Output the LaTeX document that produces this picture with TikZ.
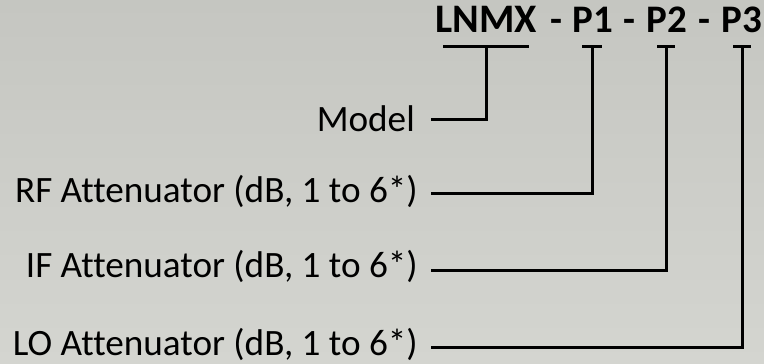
\documentclass[tikz,border=0pt]{standalone}
\usepackage{fontspec}
\setmainfont{Carlito}[Ligatures={NoCommon}]
\definecolor{bgtop}{HTML}{C5C6C1}
\definecolor{bgbot}{HTML}{D4D5D0}
\begin{document}
\begin{tikzpicture}[x=1pt,y=-1pt,
  title/.style={inner sep=0pt, anchor=base, font=\fontsize{39}{46}\selectfont\bfseries},
  lbl/.style={inner sep=0pt, anchor=base east, font=\fontsize{37.2}{44}\selectfont},
  conn/.style={line width=3pt, line join=miter}]
\useasboundingbox (0,0) rectangle (764,364);
\shade[top color=bgtop, bottom color=bgbot] (0,0) rectangle (764,364);

% title parts
\node[title, font=\fontsize{40.5}{48}\selectfont\bfseries] (lnmx) at (486.5,32) {LNMX};
\node[title] (d1) at (556,32) {-};
\node[title] (p1) at (593,32) {P1};
\node[title] (d2) at (629,32) {-};
\node[title] (p2) at (667,32) {P2};
\node[title] (d3) at (704,32) {-};
\node[title] (p3) at (742,32) {P3};

% bar centres
\coordinate (b0) at (486,46);
\coordinate (b1) at (592,46);
\coordinate (b2) at (666,46);
\coordinate (b3) at (742,46);

% labels
\node[lbl] (model) at (415,131) {Model};
\node[lbl] (rf) at (418,202) {RF Attenuator (dB, 1 to 6*)};
\node[lbl] (if) at (418,277) {IF Attenuator (dB, 1 to 6*)};
\node[lbl] (lo) at (418,355) {LO Attenuator (dB, 1 to 6*)};

% bars
\draw[conn] (443,46) -- (529,46);
\draw[conn] ([xshift=-10]b1) -- ([xshift=10]b1);
\draw[conn] ([xshift=-9]b2) -- ([xshift=9]b2);
\draw[conn] ([xshift=-9]b3) -- ([xshift=9]b3);

% connectors
\draw[conn] ([shift={(16,-12)}]model.base east) -| (b0);
\draw[conn] ([shift={(13,-9)}]rf.base east) -| (b1);
\draw[conn] ([shift={(13,-7)}]if.base east) -| (b2);
\draw[conn] ([shift={(13,-8)}]lo.base east) -| (b3);
\end{tikzpicture}
\end{document}
